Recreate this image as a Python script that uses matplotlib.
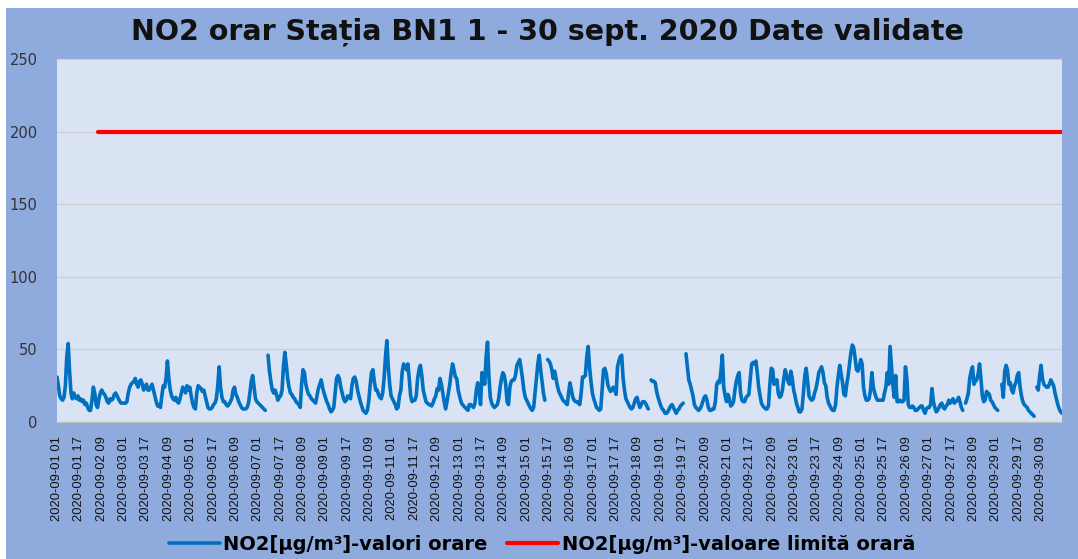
import numpy as np
import pandas as pd
import matplotlib
matplotlib.use("Agg")
import matplotlib.pyplot as plt
from matplotlib.patches import Rectangle
from matplotlib import font_manager

nan = np.nan

# NO2 hourly values, one row per day (hour 01 .. hour 24)
no2 = [
    31, 25, 18, 16, 15, 17, 25, 45, 54, 35, 20, 16, 20, 17, 16, 18, 15, 16, 14, 15, 12, 13, 10, 8,
    8, 15, 24, 20, 12, 10, 16, 20, 22, 20, 19, 17, 14, 13, 16, 15, 16, 19, 20, 18, 16, 14, 13, 13,
    13, 13, 14, 20, 24, 26, 27, 28, 30, 26, 24, 28, 29, 26, 22, 24, 26, 22, 22, 24, 26, 22, 18, 14,
    11, 12, 10, 18, 25, 24, 30, 42, 30, 22, 18, 16, 15, 17, 14, 13, 16, 20, 24, 22, 20, 25, 22, 24,
    18, 13, 10, 9, 20, 25, 24, 23, 21, 22, 18, 14, 10, 9, 9, 10, 12, 13, 16, 25, 38, 24, 17, 14,
    14, 12, 11, 12, 14, 16, 22, 24, 19, 17, 14, 12, 10, 9, 9, 9, 10, 13, 20, 28, 32, 24, 16, 14,
    13, 12, 11, 10, 9, 8, nan, 46, 35, 28, 22, 20, 22, 19, 15, 17, 18, 22, 38, 48, 40, 30, 24, 20,
    19, 17, 16, 14, 13, 12, 10, 26, 36, 34, 26, 22, 19, 18, 16, 15, 14, 13, 18, 23, 26, 29, 24, 20,
    17, 14, 12, 9, 7, 8, 10, 20, 30, 32, 30, 24, 20, 16, 14, 15, 18, 17, 16, 25, 30, 31, 28, 22,
    18, 14, 11, 8, 7, 6, 8, 14, 25, 34, 36, 28, 22, 22, 19, 17, 16, 20, 30, 45, 56, 38, 26, 18,
    16, 14, 12, 9, 10, 18, 22, 35, 40, 38, 36, 40, 30, 18, 14, 15, 15, 18, 30, 36, 39, 32, 22, 18,
    14, 13, 12, 12, 11, 13, 16, 18, 23, 22, 30, 26, 20, 14, 9, 14, 20, 26, 34, 40, 36, 31, 30, 22,
    18, 14, 12, 11, 10, 9, 8, 12, 12, 11, 10, 13, 22, 27, 22, 12, 34, 30, 26, 45, 55, 31, 17, 13,
    11, 10, 11, 12, 16, 24, 30, 34, 32, 26, 14, 12, 24, 28, 29, 29, 32, 39, 41, 43, 37, 30, 22, 17,
    15, 13, 11, 9, 8, 10, 20, 30, 40, 46, 36, 28, 20, 15, nan, 43, 42, 40, 36, 30, 35, 30, 25, 21,
    19, 17, 15, 14, 13, 12, 20, 27, 22, 17, 15, 14, 14, 13, 12, 20, 31, 31, 32, 45, 52, 38, 28, 20,
    16, 13, 10, 9, 8, 9, 22, 36, 37, 33, 26, 23, 21, 22, 24, 22, 19, 38, 42, 45, 46, 30, 22, 16,
    14, 12, 10, 9, 10, 13, 16, 17, 13, 10, 12, 14, 14, 13, 11, 9, nan, 29, 28, 28, 27, 21, 17, 14,
    11, 9, 8, 6, 6, 7, 9, 11, 12, 10, 8, 6, 8, 9, 11, 12, 13, nan, 47, 38, 29, 26, 22, 18,
    12, 10, 9, 8, 9, 11, 14, 17, 18, 15, 10, 8, 8, 9, 9, 14, 26, 28, 27, 35, 46, 24, 18, 14,
    19, 16, 11, 12, 14, 22, 28, 32, 34, 20, 15, 14, 14, 17, 18, 19, 30, 40, 41, 40, 42, 34, 24, 18,
    13, 11, 10, 9, 9, 11, 26, 37, 36, 26, 27, 29, 20, 17, 18, 22, 30, 36, 32, 28, 26, 35, 30, 22,
    18, 13, 10, 7, 7, 9, 20, 32, 37, 28, 18, 16, 15, 16, 20, 23, 28, 34, 36, 38, 34, 27, 25, 17,
    13, 11, 9, 8, 8, 12, 24, 32, 39, 33, 27, 19, 18, 26, 32, 40, 48, 53, 51, 44, 36, 35, 38, 43,
    40, 24, 18, 15, 15, 16, 22, 34, 24, 20, 17, 15, 15, 15, 15, 15, 20, 24, 34, 26, 52, 38, 25, 17,
    32, 14, 14, 15, 14, 14, 15, 38, 30, 12, 10, 10, 11, 10, 8, 8, 9, 10, 11, 11, 8, 6, 9, 10,
    10, 12, 23, 14, 10, 7, 8, 10, 12, 13, 10, 9, 11, 12, 15, 13, 14, 16, 13, 14, 15, 17, 14, 10,
    8, nan, 13, 16, 20, 30, 35, 38, 26, 28, 29, 33, 40, 30, 18, 14, 15, 21, 20, 19, 15, 14, 12, 10,
    9, 8, nan, nan, 26, 17, 35, 39, 36, 26, 27, 22, 20, 25, 27, 32, 34, 24, 18, 14, 12, 11, 10, 8,
    7, 6, 5, 4, nan, 24, 22, 32, 39, 30, 26, 25, 24, 24, 26, 29, 27, 25, 20, 16, 12, 9, 7, 6,
]

# hourly limit value series (starts on 2 Sept)
limit_start = 29
limit_value = 200

hours = pd.date_range("2020-09-01 01:00", periods=len(no2), freq="h")
tick_labels = [h.strftime("%Y-%m-%d %H") for h in hours]
limit = [nan] * limit_start + [limit_value] * (len(no2) - limit_start)

# narrow font for the rotated date labels if it is there
names = {f.name for f in font_manager.fontManager.ttflist}
if "Liberation Sans Narrow" in names:
    tick_font, tick_size = "Liberation Sans Narrow", 11.0
else:
    tick_font, tick_size = "Liberation Sans", 9.4

W, H = 1078, 559
fig = plt.figure(figsize=(W / 100, H / 100), dpi=100, facecolor="white")
fig.patches.append(Rectangle((6 / W, 0), 1 - 6 / W, 1 - 8 / H, transform=fig.transFigure,
                             facecolor="#8faadc", edgecolor="none", zorder=-10))

ax = fig.add_axes([57 / W, 1 - 422 / H, (1062 - 57) / W, (422 - 59) / H])
ax.set_zorder(1)
ax.set_facecolor("#dae3f3")

x = np.arange(len(no2))
ax.plot(x, no2, color="#0070c0", lw=2.6, solid_capstyle="round", solid_joinstyle="round",
        label="NO2[µg/m³]-valori orare", zorder=3)
ax.plot(x, limit, color="#ff0000", lw=3.0, solid_capstyle="round",
        label="NO2[µg/m³]-valoare limită orară", zorder=3)

ax.set_xlim(0, len(no2) - 1)
ax.set_ylim(0, 250)
ax.set_yticks(range(0, 251, 50))
ax.set_xticks(x[::16])
ax.set_xticklabels(tick_labels[::16], rotation=90, fontsize=tick_size, family=tick_font)
ax.tick_params(axis="x", length=0, pad=10, colors="#111111")
ax.tick_params(axis="y", length=0, pad=14, labelsize=10.5, colors="#333333")
ax.grid(axis="y", color="#d0d0d0", lw=1)
ax.set_axisbelow(True)
for s in ["top", "right", "left"]:
    ax.spines[s].set_visible(False)
ax.spines["bottom"].set_color("#bfbfbf")

fig.text(547 / W, 1 - 32 / H, "NO2 orar Stația BN1 1 - 30 sept. 2020 Date validate",
         ha="center", va="center", fontsize=20.5, fontweight="bold", color="#111111")

fig.legend(loc="center", bbox_to_anchor=(542 / W, 1 - 544 / H), ncol=2, frameon=False,
           prop={"weight": "bold", "size": 14}, handlelength=2.6, columnspacing=1.0,
           handletextpad=0.2)

fig.savefig("out.png", dpi=100, facecolor=fig.get_facecolor())
